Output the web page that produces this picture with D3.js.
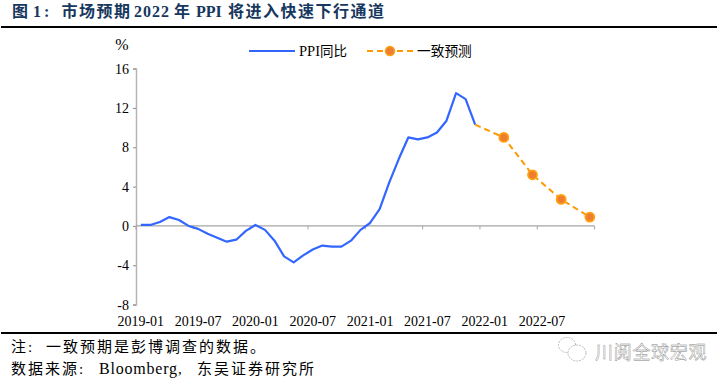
<!DOCTYPE html>
<html><head><meta charset="utf-8">
<script src="https://cdn.jsdelivr.net/npm/d3@7/dist/d3.min.js"></script>
<style>html,body{margin:0;padding:0;background:#fff}svg{display:block}
text{font-family:"Liberation Serif","Noto Sans CJK SC",serif}</style></head>
<body><svg id="c" width="724" height="382"></svg>
<script>
const months = d3.range(48).map(i => `${2019 + Math.floor(i / 12)}-${String(i % 12 + 1).padStart(2, "0")}`);
const tickLabels = ["2019-01","2019-07","2020-01","2020-07","2021-01","2021-07","2022-01","2022-07"];
const yTicks = [-8,-4,0,4,8,12,16];
const ppiValues = [0.1,0.1,0.4,0.9,0.6,0,-0.3,-0.8,-1.2,-1.6,-1.4,-0.5,0.1,-0.4,-1.5,-3.1,-3.7,-3.0,-2.4,-2.0,-2.1,-2.1,-1.5,-0.4,0.3,1.7,4.4,6.8,9.0,8.8,9.0,9.5,10.7,13.5,12.9,10.3];
const forecastMonths = ["2021-12","2022-03","2022-06","2022-09","2022-12"];
const forecastValues = [10.3,9.0,5.2,2.7,0.9];
const svg = d3.select("#c");
const x = d3.scaleBand().domain(months).range([136,594.6]);
const y = d3.scaleLinear().domain([-8,16]).range([304.6,68.6]);
const cx = m => x(m) + x.bandwidth()/2;

function seg(px, py, size, spacing, str, opts = {}) {
  return svg.append("text").attr("x",px).attr("y",py).attr("font-size",size)
    .attr("letter-spacing",spacing).attr("fill",opts.fill || "#000").attr("font-weight",opts.weight || 400).text(str);
}
const T = {fill:"#17375e", weight:700};
seg(12,17,16,0,"图",T); seg(33,17,16,0,"1",T); seg(44,17,16,0,":",T);
seg(61.5,17,16,1.5,"市场预期",T); seg(134,17,16,1,"2022",T); seg(174,17,16,0,"年",T);
seg(196,17,16,0,"PPI",T); seg(228,17,16,1.5,"将进入快速下行通道",T);
svg.append("rect").attr("x",1).attr("y",26).attr("width",716).attr("height",2).attr("fill","#000");
svg.append("rect").attr("x",1).attr("y",332).attr("width",716).attr("height",2).attr("fill","#000");

const gy = svg.append("g").attr("transform","translate(136,0)")
  .call(d3.axisLeft(y).tickValues(yTicks).tickSize(3).tickPadding(4).tickFormat(d3.format("d")));
gy.select(".domain").attr("stroke","#b5b5b5").attr("stroke-width",1.5);
gy.selectAll(".tick line").attr("stroke","#8c8c8c");
gy.selectAll("text").attr("font-size",14).attr("fill","#000").style("font-family",'"Liberation Serif"').text(d => d < 0 ? "-" + Math.abs(d) : d);

const tickPos = months.filter((m,i) => i % 6 === 0).map(m => x(m)).concat([x.range()[1]]);
const gx = svg.append("g").attr("transform",`translate(0,${y(0)})`);
gx.append("line").attr("x1",136).attr("x2",594.6).attr("stroke","#a6a6a6").attr("stroke-width",1.3);
gx.selectAll("line.t").data(tickPos).join("line").attr("class","t").attr("x1",d=>d).attr("x2",d=>d).attr("y1",0).attr("y2",3.5).attr("stroke","#a6a6a6");
svg.append("g").selectAll("text").data(tickLabels).join("text").attr("x",d=>cx(d)).attr("y",326).attr("text-anchor","middle").attr("font-size",14).attr("fill","#000").text(d=>d);

svg.append("text").attr("x",122).attr("y",50).attr("text-anchor","middle").attr("font-size",16).text("%");

const line = d3.line().curve(d3.curveLinear);
svg.append("path").attr("fill","none").attr("stroke","#3366ff").attr("stroke-width",2.2).attr("stroke-linejoin","round")
  .attr("d",line(ppiValues.map((v,i)=>[cx(months[i]),y(v)])));
svg.append("path").attr("fill","none").attr("stroke","#ff9900").attr("stroke-width",2).attr("stroke-dasharray","6,4")
  .attr("d",line(forecastValues.map((v,i)=>[cx(forecastMonths[i]),y(v)])));
svg.append("g").selectAll("circle").data(forecastValues.slice(1).map((v,i)=>[forecastMonths[i+1],v])).join("circle")
  .attr("cx",d=>cx(d[0])).attr("cy",d=>y(d[1])).attr("r",4.5).attr("fill","#ed7d31").attr("stroke","#ffa010").attr("stroke-width",1.8);

// legend
svg.append("line").attr("x1",249).attr("x2",295).attr("y1",51).attr("y2",51).attr("stroke","#3366ff").attr("stroke-width",2.2);
seg(299,56,14.5,0,"PPI"); seg(320,56,13.5,0,"同比");
svg.append("line").attr("x1",367).attr("x2",413).attr("y1",51).attr("y2",51).attr("stroke","#ff9900").attr("stroke-width",2).attr("stroke-dasharray","6,4");
svg.append("circle").attr("cx",390).attr("cy",51).attr("r",4.5).attr("fill","#ed7d31").attr("stroke","#ffa010").attr("stroke-width",1.5);
seg(417,56,13.7,0,"一致预测");

// footer
seg(11,352,15,2,"注:"); seg(46,352,15,2,"一致预期是彭博调查的数据。");
seg(11,374,15,2,"数据来源:"); seg(99,374,16,0.8,"Bloomberg"); seg(178,374,15,0,","); seg(197,374,15,2,"东吴证券研究所");

// watermark
const wm = svg.append("g").attr("fill","#fff").attr("stroke","#a8a8a8").attr("stroke-width",0.8).attr("stroke-dasharray","2,1");
wm.append("ellipse").attr("cx",567).attr("cy",345).attr("rx",8.5).attr("ry",7.5);
wm.append("ellipse").attr("cx",577).attr("cy",353).attr("rx",9).attr("ry",8);
svg.append("text").attr("x",595).attr("y",359).attr("font-size",18).attr("letter-spacing",0.7)
  .attr("fill","#fff").attr("stroke","#808080").attr("stroke-width",0.4).text("川阅全球宏观");
</script></body></html>
